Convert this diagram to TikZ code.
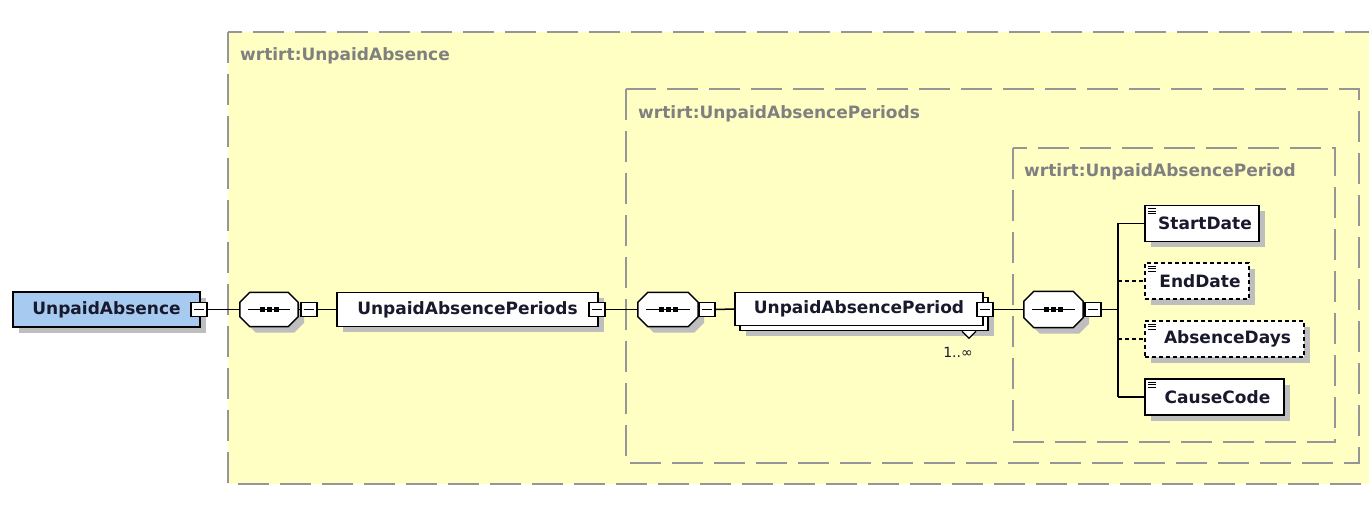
\documentclass[tikz,border=0pt]{standalone}
\usepackage{fontspec}
\setmainfont{DejaVu Sans}
\usetikzlibrary{shadows,calc}
\definecolor{frameyel}{RGB}{255,255,196}
\definecolor{framegray}{RGB}{150,150,150}
\definecolor{labgray}{RGB}{128,128,128}
\definecolor{rootblue}{RGB}{166,202,240}
\definecolor{shadowgray}{RGB}{190,190,190}
\definecolor{txt}{RGB}{25,25,45}
\newcommand{\octpath}[2]{($(#1.north west)+(10+#2,#2)$) -- ($(#1.north east)+(-10+#2,#2)$) -- ($(#1.north east)+(#2,10+#2)$) -- ($(#1.south east)+(#2,-10+#2)$) -- ($(#1.south east)+(-10+#2,#2)$) -- ($(#1.south west)+(10+#2,#2)$) -- ($(#1.south west)+(#2,-10+#2)$) -- ($(#1.north west)+(#2,10+#2)$) -- cycle}
\newcommand{\seqoct}[1]{%
  \fill[shadowgray] \octpath{#1}{6};
  \draw[draw=black, fill=white, line width=1.5pt] \octpath{#1}{0};
  \draw[line width=1.3pt] ($(#1.west)+(8,0)$) -- ($(#1.east)+(-8,0)$);
  \foreach \dx in {-7,0,7}{\fill ($(#1.center)+(\dx,0)+(-2.5,-2.5)$) rectangle ++(5,5);}}
\begin{document}
\begin{tikzpicture}[x=1pt,y=-1pt,
  frame/.style={draw=framegray, fill=frameyel, line width=1.8pt, dash pattern=on 31pt off 11pt},
  framelabel/.style={anchor=west, text=labgray, font=\bfseries\fontsize{17}{20}\selectfont, inner sep=0pt},
  elembase/.style={draw=black, fill=white, line width=1.5pt, minimum height=34pt, font=\bfseries\fontsize{17}{20}\selectfont, text=txt, inner sep=0pt},
  shad/.style={drop shadow={shadow xshift=6pt, shadow yshift=-6pt, fill=shadowgray, opacity=1}},
  elem/.style={elembase, shad},
  child/.style={elem, minimum height=36pt, path picture={
      \foreach \d in {3,5.5,8}{\draw[line width=0.9pt, solid] ([xshift=3pt,yshift=-\d pt]path picture bounding box.north west) -- ++(8pt,0);}}},
  optchild/.style={child, dash pattern=on 4pt off 3pt},
  mbox/.style={draw=black, fill=white, line width=1.2pt, minimum width=16pt, minimum height=14pt, inner sep=0pt,
      path picture={\draw[line width=1pt] ([xshift=3pt]path picture bounding box.west) -- ([xshift=-3pt]path picture bounding box.east);}},
  seq/.style={rectangle, draw=none, minimum width=58pt, minimum height=34pt, inner sep=0pt},
  conn/.style={draw=black, line width=1.5pt},
  optconn/.style={conn, dash pattern=on 4pt off 3pt}
]
\useasboundingbox (0,0) rectangle (1369,510);
\clip (0,0) rectangle (1369,510);
% frames
\draw[frame] (228,32) rectangle (1400,484);
\node[framelabel] (l1) at (240,56) {wrtirt:UnpaidAbsence};
\draw[frame] (626,89) rectangle (1359,463);
\node[framelabel] (l2) at (638,114) {wrtirt:UnpaidAbsencePeriods};
\draw[frame] (1013,148) rectangle (1335,442);
\node[framelabel] (l3) at (1024,172) {wrtirt:UnpaidAbsencePeriod};

% root
\node[elem, fill=rootblue, minimum width=187pt, minimum height=35pt] (root) at (106.5,309.5) {UnpaidAbsence};
\node[mbox] (m0) at (199,309.5) {};

\node[seq] (s1) at (269,309.5) {};
\seqoct{s1}
\node[mbox] (m1) at (309,309.5) {};

\node[elem, minimum width=261pt] (uaps) at (467.5,309.5) {UnpaidAbsencePeriods};
\node[mbox] (m2) at (597,309.5) {};

\node[seq, minimum width=60pt] (s2) at (668,309.5) {};
\seqoct{s2}
\node[mbox] (m3) at (707,309.5) {};

\node[elem, minimum width=248pt, minimum height=33pt] (uapb) at (864,314) {};
\node[elembase, minimum width=248pt, minimum height=33pt] (uap) at (859,309) {UnpaidAbsencePeriod};
\node[mbox] (m4) at (985,309.5) {};
\draw[line width=1.2pt, fill=white] ($(uapb.south)+(98,0)$) -- ($(uapb.south)+(105,7)$) -- ($(uapb.south)+(112,0)$);
\node[font=\fontsize{14}{16}\selectfont, text=txt, inner sep=0pt] (mult) at (958,352) {1..∞};

\node[seq, minimum width=59pt, minimum height=36pt] (s3) at (1053.5,309.5) {};
\seqoct{s3}
\node[mbox] (m5) at (1093,309.5) {};

% children
\node[child, minimum width=114pt] (c1) at (1202,223.5) {\hspace*{6pt}StartDate};
\node[optchild, minimum width=104pt] (c2) at (1197,281) {\hspace*{6pt}EndDate};
\node[optchild, minimum width=159pt] (c3) at (1224.5,339) {\hspace*{6pt}AbsenceDays};
\node[child, minimum width=139pt] (c4) at (1214.5,397) {\hspace*{6pt}CauseCode};

% connectors
\draw[conn] (m0.east) -- (s1.west);
\draw[conn] (s1.east) -- (m1.west);
\draw[conn] (m1.east) -- (uaps.west);
\draw[conn] (m2.east) -- (s2.west);
\draw[conn] (s2.east) -- (m3.west);
\draw[conn] (m3.east) -- (uap.west);
\draw[conn] (m4.east) -- (s3.west);
\draw[conn] (s3.east) -- (m5.west);
\coordinate (bus) at (1118,309.5);
\draw[conn] (m5.east) -- (bus);
\draw[conn] (bus |- c1.west) -- (bus |- c4.west);
\draw[conn] (bus |- c1.west) -- (c1.west);
\draw[optconn] (bus |- c2.west) -- (c2.west);
\draw[optconn] (bus |- c3.west) -- (c3.west);
\draw[conn] (bus |- c4.west) -- (c4.west);
\end{tikzpicture}
\end{document}
